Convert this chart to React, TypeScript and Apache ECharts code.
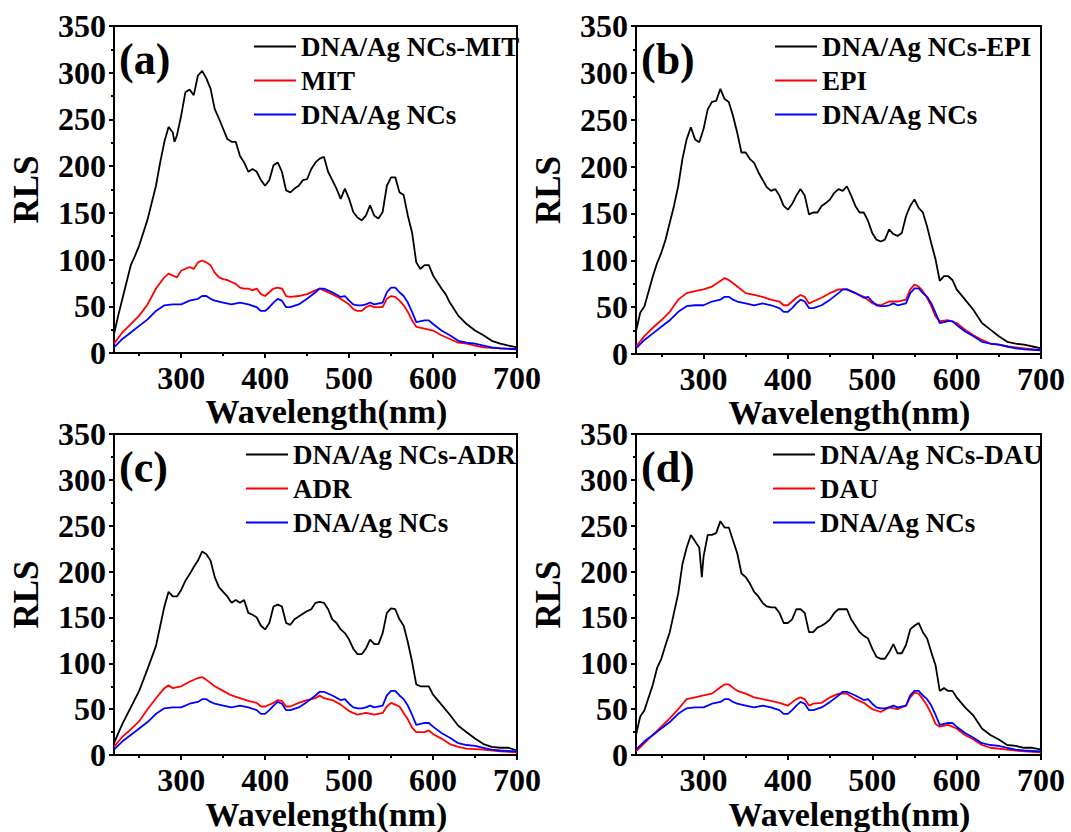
import React, { useEffect, useRef } from "react";
import * as echarts from "echarts";

// ---------- data (wavelength nm, RLS) ----------
const xLabelValues = [300, 400, 500, 600, 700];
const xMinorTicks = [250, 350, 450, 550, 650];
const panelLabels = ["(a)", "(b)", "(c)", "(d)"];
const complexNames = ["DNA/Ag NCs-MIT", "DNA/Ag NCs-EPI", "DNA/Ag NCs-ADR", "DNA/Ag NCs-DAU"];
const drugNames = ["MIT", "EPI", "ADR", "DAU"];
const probeName = "DNA/Ag NCs";

const probe: [number, number][] = [[220,6],[230,15],[240,22],[250,29],[260,36],[270,45],[280,51],[290,52],[300,52],[310,56],[320,58],[325,61],[330,61],[335,58],[340,56],[350,54],[360,52],[370,54],[380,52],[390,49],[395,45],[400,45],[405,49],[410,54],[415,58],[420,56],[425,49],[430,49],[440,52],[450,58],[460,65],[465,69],[470,69],[480,65],[490,60],[495,61],[500,56],[505,52],[510,51],[515,51],[520,52],[525,54],[530,52],[540,54],[545,65],[550,70],[555,70],[560,65],[565,61],[570,54],[575,44],[580,33],[590,35],[595,35],[600,31],[610,24],[620,19],[630,13],[640,11],[650,10],[660,8],[670,6],[680,5],[700,4]];

const complexMIT: [number, number][] = [[220,20],[225,40],[230,58],[240,94],[245,104],[250,115],[260,143],[270,179],[275,204],[280,226],[285,242],[290,236],[292,226],[295,233],[300,254],[305,279],[310,282],[315,276],[320,297],[325,302],[330,294],[335,283],[340,261],[345,251],[350,240],[355,229],[360,226],[365,226],[370,211],[375,204],[380,194],[385,197],[390,194],[395,185],[400,179],[405,185],[410,201],[415,204],[420,194],[425,174],[430,172],[435,176],[440,179],[445,185],[450,186],[455,197],[460,204],[465,208],[470,210],[475,194],[480,185],[485,176],[490,165],[495,176],[500,165],[505,151],[510,145],[515,142],[520,147],[525,158],[530,147],[535,144],[540,151],[545,179],[550,188],[555,188],[560,172],[565,169],[570,147],[575,129],[580,97],[585,90],[590,94],[595,94],[600,83],[605,76],[610,69],[615,63],[620,54],[625,47],[630,40],[640,31],[650,24],[660,19],[670,13],[680,10],[690,8],[700,6]];
const drugMIT: [number, number][] = [[220,10],[230,22],[240,31],[250,40],[260,52],[270,69],[280,81],[285,85],[290,83],[295,81],[300,88],[310,92],[315,90],[320,97],[325,99],[330,97],[335,94],[340,86],[345,81],[350,79],[355,78],[360,76],[365,74],[370,70],[375,69],[380,69],[385,67],[390,69],[395,63],[400,61],[405,65],[410,69],[415,70],[420,69],[425,61],[430,60],[440,61],[450,63],[460,67],[465,69],[470,67],[480,63],[490,58],[500,52],[505,47],[510,45],[515,45],[520,49],[525,51],[530,49],[540,49],[545,58],[550,61],[555,60],[560,56],[565,51],[570,44],[575,35],[580,28],[590,26],[600,24],[610,19],[620,15],[630,11],[640,10],[650,8],[660,6],[680,5],[700,4]];

const complexEPI: [number, number][] = [[220,24],[225,44],[230,51],[240,83],[245,97],[250,108],[255,122],[260,140],[265,158],[270,179],[275,208],[280,229],[285,242],[290,229],[295,226],[300,240],[305,261],[310,269],[315,270],[320,283],[325,272],[330,269],[335,254],[340,236],[345,215],[350,215],[355,208],[360,204],[365,194],[370,186],[375,178],[380,174],[385,176],[390,169],[395,158],[400,154],[405,160],[410,169],[415,176],[420,169],[425,149],[430,151],[435,151],[440,158],[445,161],[450,165],[455,172],[460,176],[465,174],[470,179],[475,169],[480,158],[485,151],[490,151],[495,142],[500,129],[505,122],[510,120],[515,122],[520,133],[525,128],[530,126],[535,129],[540,147],[545,158],[550,165],[555,156],[560,151],[565,136],[570,118],[575,101],[580,78],[585,83],[590,83],[595,79],[600,69],[610,58],[620,47],[630,33],[640,26],[650,19],[660,13],[670,11],[680,10],[690,8],[700,6]];
const drugEPI: [number, number][] = [[220,8],[230,19],[240,28],[250,36],[260,45],[270,58],[280,65],[290,67],[300,69],[310,72],[320,78],[325,81],[330,79],[340,72],[350,65],[360,63],[370,61],[380,58],[390,56],[395,52],[400,52],[410,60],[415,63],[420,61],[425,54],[430,56],[440,60],[450,65],[460,69],[470,69],[480,65],[490,61],[500,54],[510,52],[520,56],[530,56],[540,58],[545,69],[550,74],[555,72],[560,67],[565,60],[570,51],[575,40],[580,35],[590,36],[600,33],[610,26],[620,20],[630,15],[640,11],[650,10],[660,8],[680,6],[700,4]];

const complexADR: [number, number][] = [[220,13],[230,34],[240,52],[250,70],[260,94],[270,119],[280,162],[285,178],[290,173],[295,173],[300,180],[305,190],[310,197],[315,205],[320,212],[325,222],[330,219],[335,212],[340,194],[345,183],[350,178],[355,173],[360,166],[365,169],[370,166],[375,169],[380,155],[385,153],[390,150],[395,141],[400,137],[405,144],[410,162],[415,164],[420,162],[425,144],[430,142],[435,148],[440,151],[450,157],[455,159],[460,166],[465,167],[470,166],[475,159],[480,148],[485,144],[490,137],[495,133],[500,126],[505,116],[510,110],[515,110],[520,116],[525,126],[530,121],[535,121],[540,133],[545,155],[550,160],[555,159],[560,148],[565,141],[570,123],[575,102],[580,77],[585,75],[590,75],[595,75],[600,66],[610,55],[620,44],[630,32],[640,25],[650,18],[660,12],[670,9],[680,8],[690,8],[700,5]];
const drugADR: [number, number][] = [[220,9],[230,20],[240,28],[250,37],[260,50],[270,62],[280,73],[285,76],[290,73],[300,75],[310,80],[320,84],[325,85],[330,82],[340,75],[350,70],[360,65],[370,62],[380,59],[390,57],[395,53],[400,53],[410,57],[415,60],[420,59],[425,53],[430,53],[440,57],[450,60],[460,62],[465,65],[470,62],[480,60],[490,55],[500,48],[510,44],[520,46],[530,44],[540,46],[545,53],[550,57],[555,55],[560,53],[565,46],[570,39],[575,30],[580,25],[590,25],[595,27],[600,23],[610,18],[620,12],[630,9],[640,7],[660,6],[680,4],[700,3]];

const complexDAU: [number, number][] = [[220,22],[225,42],[230,49],[240,77],[245,95],[250,105],[255,120],[260,134],[265,155],[270,176],[275,208],[280,226],[285,240],[290,233],[295,226],[298,194],[300,216],[305,240],[310,240],[315,242],[320,255],[325,248],[330,248],[335,234],[340,220],[345,198],[350,194],[355,187],[360,178],[365,173],[370,166],[375,162],[380,161],[385,161],[390,155],[395,144],[400,144],[405,148],[410,159],[415,159],[420,155],[425,134],[430,134],[435,139],[440,141],[445,144],[450,148],[455,155],[460,159],[465,159],[470,159],[475,148],[480,141],[485,134],[490,130],[495,127],[500,116],[505,107],[510,105],[515,105],[520,112],[525,121],[530,111],[535,111],[540,120],[545,137],[550,141],[555,144],[560,134],[565,127],[570,112],[575,98],[580,70],[585,73],[590,70],[595,70],[600,63],[610,52],[620,43],[630,29],[640,22],[650,17],[660,11],[670,10],[680,8],[690,8],[700,6]];
const drugDAU: [number, number][] = [[220,4],[230,13],[240,22],[250,31],[260,40],[270,50],[280,61],[290,63],[300,65],[310,67],[320,74],[325,77],[330,77],[340,70],[350,67],[360,63],[370,61],[380,59],[390,57],[400,54],[410,61],[415,63],[420,61],[425,54],[430,56],[440,57],[450,63],[460,67],[470,67],[480,61],[490,57],[500,50],[510,47],[520,52],[530,50],[540,54],[545,63],[550,68],[555,67],[560,61],[565,54],[570,45],[575,34],[580,31],[590,33],[600,29],[610,22],[620,17],[630,11],[640,8],[660,6],[680,4],[700,3]];

const complexSeries = [complexMIT, complexEPI, complexADR, complexDAU];
const drugSeries = [drugMIT, drugEPI, drugADR, drugDAU];

// ---------- layout ----------
const grids = [
  { left: 114, top: 26, width: 403, height: 327 },
  { left: 636, top: 26, width: 405, height: 328 },
  { left: 114, top: 434, width: 403, height: 327 },
  { left: 636, top: 434, width: 405, height: 327 },
];
const legendPos = [
  { left: 254, top: 33 },
  { left: 775, top: 33 },
  { left: 246, top: 441 },
  { left: 773, top: 441 },
];

const FONT = "'Liberation Serif', 'Times New Roman', serif";

export default function App() {
  const ref = useRef<HTMLDivElement>(null);
  useEffect(() => {
    document.body.style.margin = "0";
    if (!ref.current) return;
    const chart = echarts.init(ref.current, null, { renderer: "svg" });

    const xAxis: any[] = [];
    const yAxis: any[] = [];
    const series: any[] = [];
    const legend: any[] = [];
    const graphic: any[] = [];

    grids.forEach((g, i) => {
      xAxis.push({
        type: "value",
        gridIndex: i,
        position: "bottom",
        min: 220,
        max: 700,
        name: "Wavelength(nm)",
        nameLocation: "middle",
        nameGap: 30,
        nameTextStyle: { fontFamily: FONT, fontWeight: "bold", fontSize: 34, color: "#000", padding: [0, 0, 0, 22] },
        axisLine: { show: true, lineStyle: { color: "#000", width: 2 } },
        axisTick: { show: true, inside: false, length: 5, lineStyle: { color: "#000", width: 2 }, customValues: xLabelValues },
        axisLabel: { show: true, margin: 9, customValues: xLabelValues, fontFamily: FONT, fontWeight: "bold", fontSize: 32, color: "#000" },
        splitLine: { show: false },
      });
      xAxis.push({
        type: "value",
        gridIndex: i,
        position: "bottom",
        min: 220,
        max: 700,
        axisLine: { show: false },
        axisTick: { show: true, inside: false, length: 3, lineStyle: { color: "#000", width: 2 }, customValues: xMinorTicks },
        axisLabel: { show: false },
        splitLine: { show: false },
      });
      yAxis.push({
        type: "value",
        gridIndex: i,
        min: 0,
        max: 350,
        interval: 50,
        name: "RLS",
        nameLocation: "middle",
        nameGap: 70,
        nameTextStyle: { fontFamily: FONT, fontWeight: "bold", fontSize: 35, color: "#000" },
        axisLine: { show: true, lineStyle: { color: "#000", width: 2 } },
        axisTick: { show: true, inside: false, length: 5, lineStyle: { color: "#000", width: 2 } },
        minorTick: { show: true, splitNumber: 2, length: 3, lineStyle: { color: "#000", width: 2 } },
        axisLabel: { show: true, margin: 8, fontFamily: FONT, fontWeight: "bold", fontSize: 32, color: "#000" },
        splitLine: { show: false },
        minorSplitLine: { show: false },
      });
      const mk = (name: string, data: [number, number][], color: string) => ({
        type: "line",
        name,
        xAxisIndex: 2 * i,
        yAxisIndex: i,
        data,
        showSymbol: false,
        symbol: "none",
        smooth: false,
        itemStyle: { color },
        lineStyle: { color, width: 1.8 },
      });
      series.push(mk(complexNames[i], complexSeries[i], "#000000"));
      series.push(mk(drugNames[i], drugSeries[i], "#ff0000"));
      series.push(mk(probeName, probe, "#0000ff"));
      legend.push({
        show: true,
        orient: "vertical",
        left: legendPos[i].left,
        top: legendPos[i].top,
        data: [complexNames[i], drugNames[i], probeName],
        icon: "rect",
        itemWidth: 42,
        itemHeight: 2,
        itemGap: 7,
        padding: 0,
        selectedMode: false,
        textStyle: { fontFamily: FONT, fontWeight: "bold", fontSize: 27, lineHeight: 27, color: "#000" },
      });
      graphic.push({
        type: "text",
        left: g.left + 5,
        top: g.top + 11,
        style: { text: panelLabels[i], font: `bold 44px ${FONT}`, fill: "#000" },
      });
    });

    chart.setOption({
      animation: false,
      backgroundColor: "#ffffff",
      grid: grids.map((g) => ({ ...g, show: true, borderColor: "#000", borderWidth: 2, backgroundColor: "transparent", containLabel: false })),
      xAxis,
      yAxis,
      series,
      legend,
      graphic,
    });
    return () => chart.dispose();
  }, []);
  return <div ref={ref} style={{ width: 1071, height: 832 }} />;
}
